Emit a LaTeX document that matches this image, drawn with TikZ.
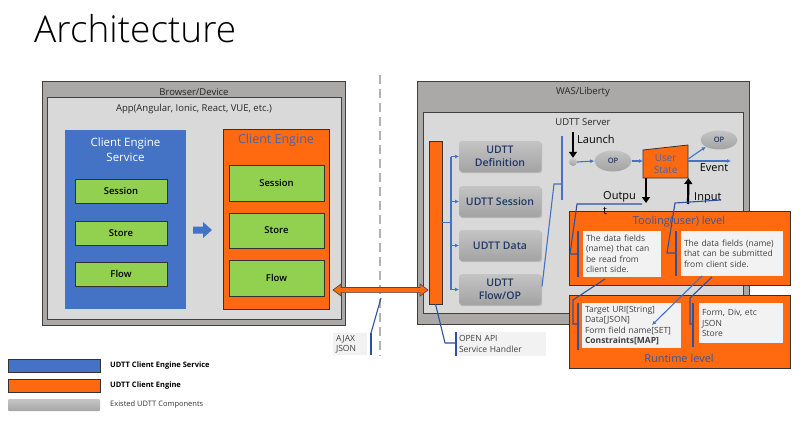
\documentclass[tikz,border=0pt]{standalone}
\usepackage{fontspec}
\setmainfont{Open Sans}
\newfontfamily\lightf{Open Sans Light}
\newfontfamily\semib{Open Sans Semibold}
\usetikzlibrary{shapes.geometric,arrows.meta,calc,shadows}
\definecolor{orng}{HTML}{FF6A10}
\definecolor{cblue}{HTML}{4472C4}
\definecolor{grn}{HTML}{92D050}
\definecolor{wasgray}{HTML}{ABA8A8}
\definecolor{lightg}{HTML}{D9D9D9}
\definecolor{navy}{HTML}{1F3864}
\definecolor{ctitle}{HTML}{4465B0}
\definecolor{lblue}{HTML}{4472C4}
\definecolor{dblue}{HTML}{2F4F9F}
\definecolor{txtbox}{HTML}{F2F2F2}
\definecolor{gtop}{HTML}{C4C4C4}
\definecolor{gbot}{HTML}{A3A3A3}
\newcommand\fsz[2]{\fontsize{#1}{#2}\selectfont}
\tikzset{
  base/.style={inner sep=0pt, outer sep=0pt, anchor=north west},
  shd/.style={drop shadow={opacity=0.35, shadow xshift=1.2pt, shadow yshift=-1.2pt}},
  bigbox/.style={base, draw=black!75, line width=0.9pt, fill=wasgray, shd},
  lbox/.style={base, draw=black!75, line width=0.9pt, fill=lightg},
  greenbox/.style={base, draw=black!80, line width=0.9pt, fill=grn, shd},
  gtext/.style={font=\semib\fsz{9.5}{11}},
  udttbox/.style={base, rounded corners=3pt, top color=gtop, bottom color=gbot, text=navy, font=\semib\fsz{10.5}{12.5}, align=center, minimum width=82, minimum height=31, shd},
  orbox/.style={base, draw=black!80, line width=0.9pt, fill=orng, shd},
  tbox/.style={base, fill=txtbox, text=black!75, align=left, font=\fsz{8.5}{10.5}, inner xsep=3pt, inner ysep=2pt},
  lbl/.style={inner sep=0pt, font=\fsz{9.5}{11}, text=black!85},
  bl/.style={draw=lblue, line width=1.1pt},
  cl/.style={draw=dblue, line width=1.1pt},
  bar/.style={draw=dblue, line width=1.6pt},
  blarr/.style={bl, -{Latex[length=4pt,width=4pt]}},
  blk/.style={draw=black, line width=2.2pt, -{Triangle[length=6pt,width=8pt]}},
  opell/.style={ellipse, inner sep=0pt, top color=gtop, bottom color=gbot, text=navy, font=\semib\fsz{7.5}{9}},
  leg/.style={base, minimum width=92, minimum height=13.5, draw=black!80, line width=0.8pt}
}
\begin{document}
\begin{tikzpicture}[x=1pt,y=-1pt]
\useasboundingbox (0,0) rectangle (800,428);
% title
\node[anchor=west, inner sep=0pt, font=\lightf\fsz{37}{40}] (title) at (34,29) {Architecture};

% ---------- Browser ----------
\node[bigbox, minimum width=303, minimum height=244] (browser) at (42,81) {};
\node[lbl] (browserl) at (194,92) {Browser/Device};
\node[lbox, minimum width=294, minimum height=222] (app) at (47,97) {};
\node[lbl] (appl) at (194,109) {App(Angular, Ionic, React, VUE, etc.)};

\node[base, fill=cblue, minimum width=121, minimum height=179] (ces) at (65,130) {};
\node[inner sep=0pt, align=center, text=white, font=\fsz{11.5}{15}] (cesl) at (125.5,150) {Client Engine\\Service};
\node[greenbox, minimum width=92, minimum height=24] (s1) at (75,179) {};
\node[gtext] at (s1) {Session};
\node[greenbox, minimum width=92, minimum height=24] (st1) at (75,221) {};
\node[gtext] at (st1) {Store};
\node[greenbox, minimum width=92, minimum height=24] (f1) at (75,262) {};
\node[gtext] at (f1) {Flow};

\fill[cblue] (193,226.5) -- (203,226.5) -- (203,222) -- (212,230) -- (203,238) -- (203,233.5) -- (193,233.5) -- cycle;

\node[orbox, minimum width=106, minimum height=180] (ce) at (223,129) {};
\node[inner sep=0pt, text=ctitle, font=\fsz{12.5}{14}] (cel) at (276,140) {Client Engine};
\node[greenbox, minimum width=95, minimum height=36] (s2) at (229,165) {};
\node[gtext] at (s2) {Session};
\node[greenbox, minimum width=95, minimum height=35] (st2) at (229,213) {};
\node[gtext] at (st2) {Store};
\node[greenbox, minimum width=95, minimum height=36] (f2) at (229,260) {};
\node[gtext] at (f2) {Flow};

% dashed separator
\draw[black!30, line width=2pt, dash pattern=on 9pt off 5pt] (380,75) -- (380,356);

% ---------- WAS ----------
\node[bigbox, minimum width=332, minimum height=243] (was) at (417,81) {};
\node[lbl] (wasl) at (583,92) {WAS/Liberty};
\node[lbox, minimum width=320, minimum height=201] (srv) at (423,112) {};
\node[lbl] (srvl) at (583,122) {UDTT Server};

\node[orbox, minimum width=13, minimum height=163] (hbar) at (429,141) {};
\node[udttbox] (def) at (459,141) {UDTT\\Definition};
\node[udttbox] (sess) at (459,186) {UDTT Session};
\node[udttbox] (data) at (459,230) {UDTT Data};
\node[udttbox] (flow) at (459,274) {UDTT\\Flow/OP};

\draw[bl] (hbar.east) -- ++(9,0) coordinate (tj);
\draw[bl] (tj |- def.west) -- (tj |- flow.west);
\foreach \n in {def,sess,data,flow} \draw[blarr] (tj |- \n.west) -- (\n.west);

% double arrow between client engine flow and service handler
\coordinate (dl) at (333,290);
\coordinate (dr) at (428,290);
\filldraw[fill=orng, draw=black!70, line width=0.7pt]
  (dl) -- ($(dl)+(8,-6)$) -- ($(dl)+(8,-2.6)$) -- ($(dr)+(-8,-2.6)$) -- ($(dr)+(-8,-6)$) -- (dr)
  -- ($(dr)+(-8,6)$) -- ($(dr)+(-8,2.6)$) -- ($(dl)+(8,2.6)$) -- ($(dl)+(8,6)$) -- cycle;

% bracket right of flow
\coordinate (fb) at (554,184);
\coordinate (b1t) at (562,136);
\coordinate (b1b) at (562,200);
\draw[bl] ($(flow.east)+(1,-3)$) -- (fb) -- (fb -| b1t);
\draw[bl] (b1t) -- (b1b);

% launch / OP / user state
\node[circle, inner sep=0pt, minimum size=8, top color=gray!40, bottom color=gray!75] (dot) at (573,162) {};
\coordinate (lt) at (573,132);
\draw[blk] (lt) -- (dot.north);
\node[anchor=west, inner sep=0pt, font=\fsz{11}{13}] (launch) at (577,139) {Launch};
\node[opell, minimum width=37, minimum height=21] (op1) at (613,161) {OP};
\draw[blarr] (dot.east) -- (op1.west);
\filldraw[fill=orng, draw=black!80, line width=0.8pt] (643,150) -- (688,145) -- (688,178) -- (643,178) -- cycle;
\node[inner sep=0pt, minimum width=45, minimum height=28, anchor=south west, align=center, text=ctitle, font=\fsz{10}{11.5}] (us) at (643,178) {User\\State};
\draw[blarr] (op1.east) -- (op1.east -| us.west);
\node[opell, minimum width=37, minimum height=19] (op2) at (719,140) {OP};
\draw[blarr] ($(us.east)+(0,-5)$) -- (op2.south west);
\coordinate (ev) at (731,161);
\draw[blarr] (us.east |- ev) -- (ev);
\node[anchor=north, inner sep=0pt, font=\fsz{11}{13}] (evt) at (714,163) {Event};

\coordinate (o2) at (646,203);
\draw[blk] (o2 |- us.south) -- (o2);
\coordinate (i1) at (688,204);
\draw[blk] (i1) -- (us.south east);
\node[anchor=west, inner sep=0pt, font=\fsz{11}{13}] (inp) at (694,198) {Input};

% ---------- Tooling level ----------
\node[orbox, minimum width=221, minimum height=74] (tool) at (569,211) {};
\node[inner sep=0pt, text=ctitle!85!black, font=\fsz{11}{13}] (tooll) at (679,222) {Tooling(user) level};
\node[anchor=north west, align=left, inner sep=0pt, font=\fsz{11}{15}] (outp) at (603,191) {Outpu\\t};
\node[tbox, minimum width=78, minimum height=46, text width=72] (t1) at (583,231) {The data fields\\(name) that can\\be read from\\client side.};
\node[tbox, minimum width=102, minimum height=45, text width=96] (t2) at (681,231) {The data fields (name)\\that can be submitted\\from client side.};
\draw[bar] ($(t1.north west)+(-5,0)$) coordinate (c1t) -- ($(t1.south west)+(-5,0)$) coordinate (c1b);
\draw[bar] ($(t2.north west)+(-5,0)$) coordinate (c2t) -- ($(t2.south west)+(-5,0)$) coordinate (c2b);
\draw[cl] ($(o2)+(-4,1)$) -- (577,204) -- (570,254) -- (c1t |- 0,254);
\draw[cl] (721,200) -- (675,203) -- (667,253) -- (c2t |- 0,253);

% ---------- Runtime level ----------
\node[orbox, minimum width=221, minimum height=73] (run) at (569,295) {};
\node[inner sep=0pt, text=ctitle!85!black, font=\fsz{11}{13}] (runl) at (679,358) {Runtime level};
\node[tbox, minimum width=99, minimum height=45, text width=93] (r1) at (582,303) {Target URI[String]\\Data[JSON]\\Form field name[SET]\\\textbf{Constraints[MAP]}};
\node[tbox, minimum width=84, minimum height=40, text width=78] (r2) at (699,303) {Form, Div, etc\\JSON\\Store};
\draw[bar] ($(r1.north west)+(-4,0)$) coordinate (c3t) -- ($(r1.south west)+(-4,2)$);
\draw[bar] ($(r2.north west)+(-6,0)$) coordinate (c4t) -- ($(r2.south west)+(-6,4)$);
\draw[cl] ($(t1.south west)+(22,2)$) -- (573,300) -- (573,324) -- (c3t |- 0,324);
\draw[cl] ($(t2.south west)+(31,1)$) -- (690,298) -- (690,324) -- (c4t |- 0,324);
\draw[blarr] ($(t2.south west)+(21,0)$) -- (652,325);

% ---------- callouts bottom ----------
\node[tbox, minimum width=32, minimum height=22, text width=28, font=\fsz{8.5}{10.5}] (ajax) at (333,333) {AJAX\\JSON};
\draw[bar] (371,333) coordinate (c5t) -- (371,355);
\coordinate (ajp) at (381,298);
\draw[cl] (c5t) -- (ajp);
\node[tbox, minimum width=89, minimum height=24, text width=84, font=\fsz{8.5}{10.5}] (oapi) at (456,332) {OPEN API\\Service Handler};
\draw[bar] (oapi.north west) -- (oapi.south west);
\draw[cl] (hbar.south) -- (445,343) -- (oapi.west |- 0,343);

% ---------- legend ----------
\node[leg, fill=cblue] (lg1) at (8,359) {};
\node[anchor=west, inner sep=0pt, font=\fsz{7.5}{9}\bfseries] (lg1t) at (110,366) {UDTT Client Engine Service};
\node[leg, fill=orng] (lg2) at (8,379) {};
\node[anchor=west, inner sep=0pt, font=\fsz{7.5}{9}\bfseries] (lg2t) at (110,385.5) {UDTT Client Engine};
\node[base, minimum width=92, minimum height=12, top color=gray!45, bottom color=gray!70, rounded corners=1pt] (lg3) at (8,399) {};
\node[anchor=west, inner sep=0pt, font=\fsz{7.5}{9}, text=black!80] (lg3t) at (110,405) {Existed UDTT Components};
\end{tikzpicture}
\end{document}
